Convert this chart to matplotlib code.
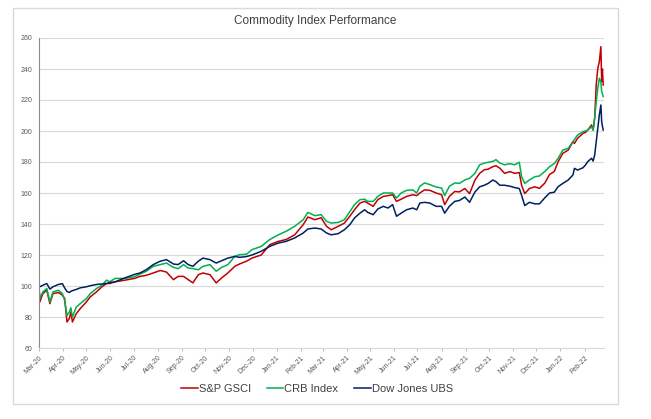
import pandas as pd
import matplotlib.pyplot as plt
import matplotlib.dates as mdates
from matplotlib.patches import Rectangle

plt.rcParams['font.family'] = ['Liberation Sans', 'DejaVu Sans']

# Index levels (start = 100), x as days after 2020-03-01

day_offsets = [
    0, 1, 5, 10, 14, 18, 25, 30, 33, 36, 39, 41, 43, 48, 53, 61, 66, 74, 81, 87,
    91, 98, 111, 123, 130, 138, 147, 156, 164, 173, 179, 186, 192, 198, 205, 211,
    220, 228, 235, 243, 252, 258, 267, 274, 286, 297, 308, 318, 329, 340, 346,
    355, 363, 370, 376, 385, 393, 400, 406, 413, 419, 423, 430, 436, 443, 449,
    455, 460, 466, 473, 481, 486, 490, 496, 503, 511, 518, 522, 528, 535, 541,
    548, 554, 561, 567, 573, 578, 584, 588, 593, 599, 606, 612, 618, 621, 625,
    631, 638, 644, 651, 657, 663, 668, 674, 681, 687, 689, 693, 700, 703, 706,
    711, 713, 715, 717, 719, 721, 723, 724, 725, 726,
]

sp_gsci = [
    100, 89.7, 95.1, 97.3, 88.6, 95.1, 95.8, 94.1, 92.0, 76.8, 79.0, 83.2, 76.8,
    82.2, 85.4, 89.7, 93.0, 96.2, 99.5, 101.6, 101.6, 102.7, 103.8, 104.9, 106.2,
    106.9, 108.4, 110.0, 109.0, 104.1, 106.2, 106.2, 104.1, 102.0, 107.3, 108.4,
    107.3, 102.0, 105.2, 108.4, 112.7, 114.2, 116.0, 118.0, 120.0, 126.7, 128.8,
    130.0, 133.0, 139.6, 144.5, 142.8, 144.0, 138.5, 136.3, 138.5, 140.6, 145.0,
    149.2, 153.5, 154.6, 153.5, 151.4, 155.7, 157.8, 158.3, 158.9, 154.6, 156.0,
    157.8, 158.9, 158.3, 160.0, 162.0, 161.7, 160.0, 158.9, 152.5, 157.8, 161.0,
    160.7, 162.9, 159.6, 168.4, 172.7, 175.0, 175.4, 177.0, 177.6, 176.0, 172.7,
    173.8, 172.7, 173.2, 165.0, 159.6, 162.9, 164.0, 163.0, 166.5, 172.0, 173.8,
    180.2, 185.6, 187.7, 193.1, 192.0, 195.3, 198.5, 199.0, 200.6, 203.9, 200.6,
    208.2, 229.7, 240.4, 244.7, 254.4, 231.8, 240.0, 229.7,
]

crb_index = [
    100, 91.9, 96.2, 98.4, 89.7, 96.2, 97.3, 95.1, 90.8, 81.0, 83.2, 86.0, 80.0,
    86.5, 88.6, 91.9, 95.1, 98.4, 100.5, 103.8, 102.7, 104.9, 104.9, 106.0, 107.7,
    109.5, 112.7, 113.8, 114.8, 112.0, 111.2, 113.8, 111.6, 111.2, 110.5, 112.7,
    113.8, 109.5, 112.0, 113.8, 119.1, 120.2, 120.5, 123.4, 125.6, 130.0, 133.0,
    135.3, 138.5, 142.8, 147.5, 145.4, 146.0, 141.7, 140.6, 141.0, 142.8, 148.0,
    152.5, 155.7, 156.0, 154.6, 154.6, 157.8, 160.0, 160.0, 160.0, 156.8, 160.0,
    161.7, 162.0, 160.0, 164.3, 166.5, 165.4, 163.9, 163.2, 158.3, 164.3, 166.5,
    166.2, 168.4, 169.5, 172.7, 178.2, 179.3, 179.8, 180.4, 181.5, 179.3, 178.2,
    178.9, 178.2, 179.8, 170.5, 166.2, 168.4, 170.5, 171.0, 174.0, 177.0, 179.0,
    182.4, 187.7, 188.8, 193.1, 194.5, 197.4, 199.6, 200.0, 200.6, 202.8, 200.6,
    208.2, 218.9, 227.5, 234.0, 231.8, 225.4, 224.0, 222.2,
]

dj_ubs = [
    100, 99.5, 100.5, 101.6, 98.0, 99.5, 101.0, 101.5, 98.8, 96.5, 95.8, 96.5,
    97.0, 97.8, 98.8, 99.5, 100.2, 101.0, 101.3, 101.6, 102.2, 102.7, 105.3, 107.5,
    108.4, 110.5, 113.8, 116.0, 117.0, 114.2, 113.8, 116.3, 113.8, 112.7, 116.0,
    118.0, 117.0, 114.8, 116.3, 118.0, 119.1, 118.5, 119.0, 120.0, 122.4, 125.6,
    127.7, 128.8, 131.0, 134.2, 136.8, 137.4, 136.8, 134.2, 133.0, 133.8, 136.3,
    139.6, 143.9, 147.0, 149.2, 147.5, 146.0, 149.7, 151.4, 150.3, 152.5, 145.0,
    147.0, 149.2, 150.3, 149.2, 153.5, 154.0, 153.5, 151.4, 151.4, 147.0, 151.4,
    154.6, 155.2, 157.4, 154.0, 160.7, 164.0, 165.0, 166.2, 168.4, 167.3, 165.0,
    165.0, 164.4, 163.5, 162.9, 158.5, 151.9, 154.0, 153.0, 153.0, 157.0, 160.0,
    160.5, 164.1, 166.2, 168.4, 171.6, 175.9, 174.8, 176.3, 178.0, 180.2, 182.4,
    180.6, 184.5, 193.1, 201.7, 210.3, 216.8, 206.0, 203.0, 200.6,
]

start = pd.Timestamp("2020-03-01")
dates = start + pd.to_timedelta(day_offsets, unit="D")

# Chart

fig = plt.figure(figsize=(6.51, 4.19), dpi=100)
ax = fig.add_axes([39 / 651, 1 - 348 / 419, (604 - 39) / 651, (348 - 38) / 419])

ax.plot(dates, sp_gsci, color="#C00000", lw=1.1, label="S&P GSCI")
ax.plot(dates, crb_index, color="#00B050", lw=1.1, label="CRB Index")
ax.plot(dates, dj_ubs, color="#002060", lw=1.1, label="Dow Jones UBS")

ax.set_xlim(start, start + pd.Timedelta(days=727))
ax.set_ylim(60, 260)
ax.set_yticks(range(60, 261, 20))
ax.yaxis.grid(True, color="#D9D9D9", lw=0.8)
ax.set_axisbelow(True)

ax.xaxis.set_major_locator(mdates.MonthLocator())
ax.xaxis.set_major_formatter(mdates.DateFormatter("%b-%y"))
for lbl in ax.get_xticklabels():
    lbl.set_rotation(45)
    lbl.set_ha("right")
    lbl.set_rotation_mode("anchor")

ax.tick_params(axis="y", length=0, labelsize=5, pad=5, labelcolor="#595959")
ax.tick_params(axis="x", length=2.5, width=0.7, color="#BFBFBF", labelsize=5,
               pad=2, labelcolor="#595959")

ax.spines["top"].set_visible(False)
ax.spines["right"].set_visible(False)
ax.spines["left"].set_color("#8C8C8C")
ax.spines["bottom"].set_color("#D9D9D9")

fig.text(315.5 / 651, 1 - 21 / 419, "Commodity Index Performance",
         ha="center", va="center", fontsize=8.5, color="#404040")

fig.legend(loc="center", bbox_to_anchor=(317 / 651, 1 - 389 / 419), ncol=3,
           frameon=False, fontsize=8, handlelength=1.5, handletextpad=0.1,
           columnspacing=1.4, labelcolor="#404040")

fig.patches.append(Rectangle((13 / 651, 1 - 404 / 419), (618 - 13) / 651,
                             (404 - 8) / 419, transform=fig.transFigure,
                             fill=False, edgecolor="#D9D9D9", lw=1))

plt.savefig("out.png", dpi=100)
